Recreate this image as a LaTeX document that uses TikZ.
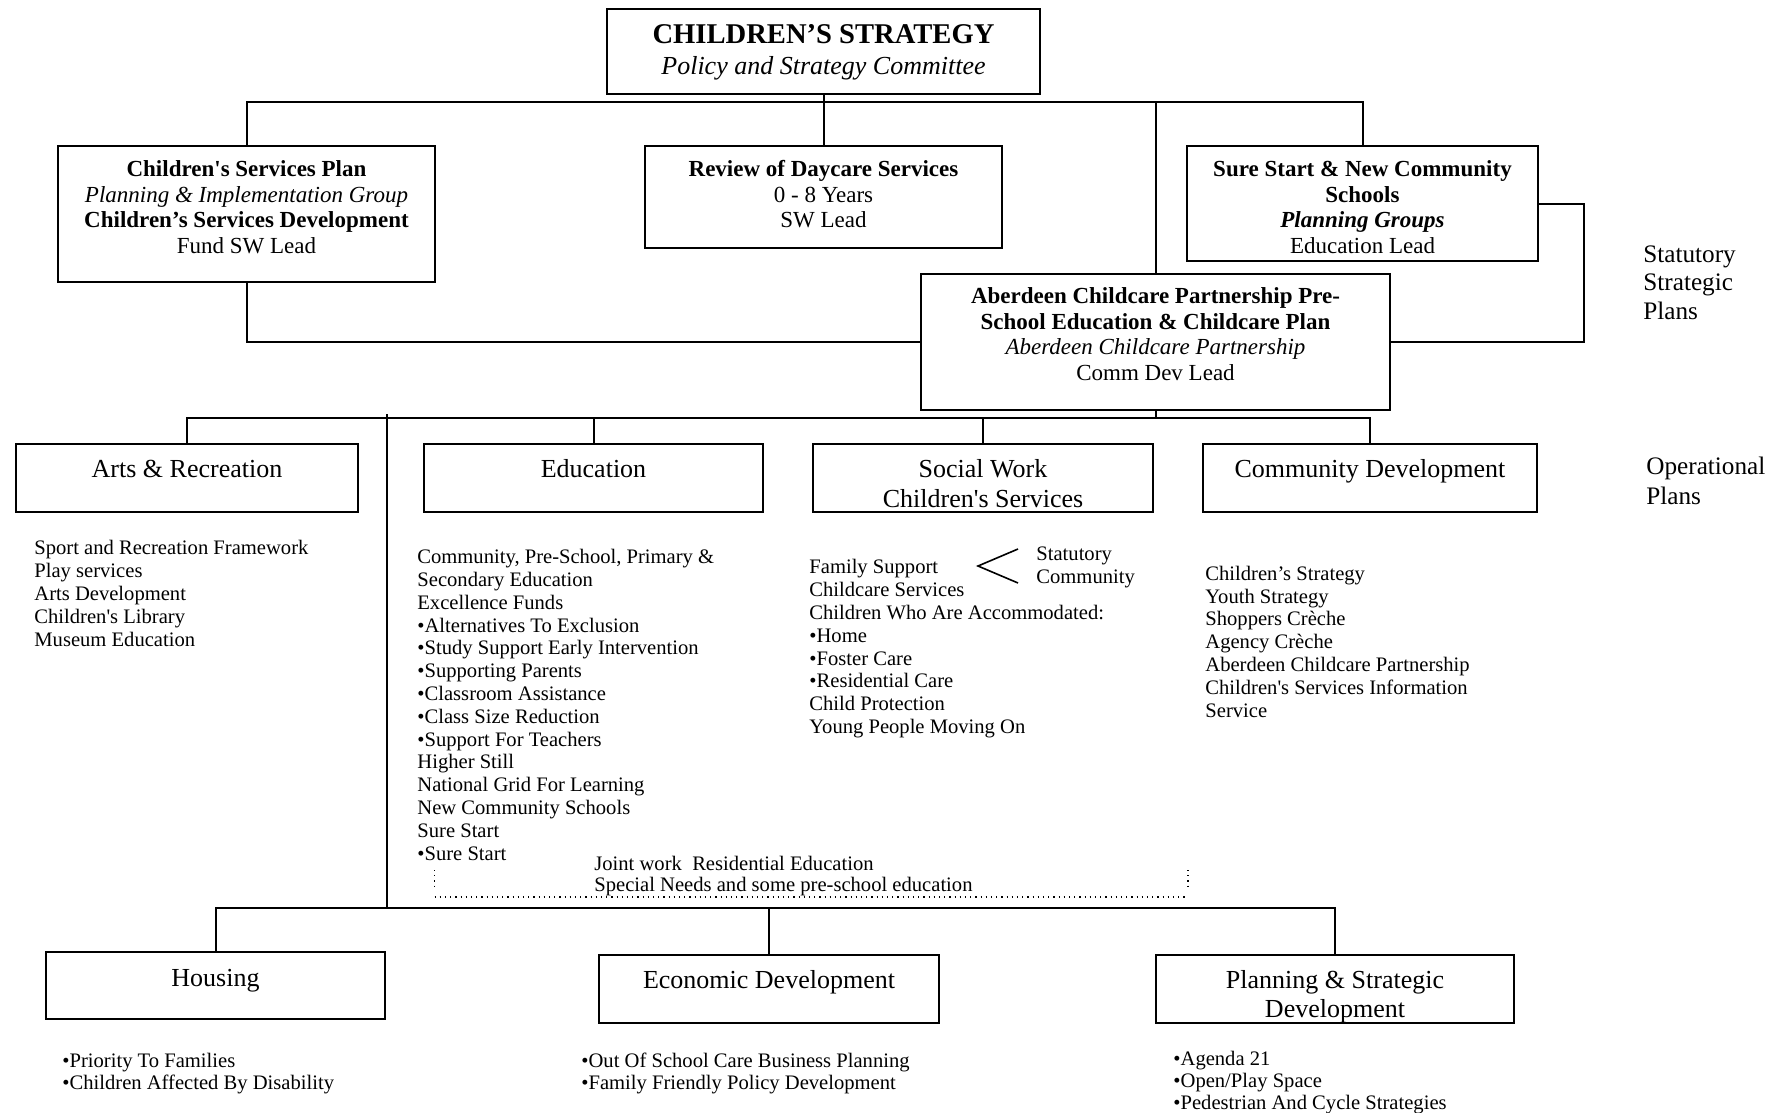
\documentclass[tikz,border=0pt]{standalone}
\usepackage{fontspec}
\setmainfont{Liberation Serif}
\begin{document}
\begin{tikzpicture}[x=0.5pt,y=-0.5pt,
  box/.style={draw,line width=1pt,inner xsep=0pt,inner ysep=0pt,align=center,anchor=north},
  plan/.style={box,font=\fontsize{11.5}{12.75}\selectfont},
  dept/.style={box,font=\fontsize{13}{15}\selectfont,text height=16.5pt,text depth=17.5pt},
  list/.style={anchor=base west,align=left,inner sep=0pt,font=\fontsize{10.3}{11.4}\selectfont},
  side/.style={anchor=base west,align=left,inner sep=0pt,font=\fontsize{12.6}{14.25}\selectfont},
  link/.style={line width=1pt}]
\useasboundingbox (0,0) rectangle (1782,1113);
% strategic plans (text height = top of box to last baseline)
\node[box,minimum width=216.5pt,text height=33pt,text depth=9.5pt,font=\fontsize{13}{15.5}\selectfont] (strategy) at (823.5,8)
  {{\fontsize{14.3}{15.5}\selectfont\bfseries CHILDREN’S STRATEGY}\\\textit{Policy and Strategy Committee}};
\node[plan,minimum width=188.5pt,text height=53.5pt,text depth=14.5pt] (csp) at (246.5,145)
  {\textbf{Children\textquotesingle s Services Plan}\\\textit{Planning \& Implementation Group}\\\textbf{Children’s Services Development}\\Fund SW Lead};
\node[plan,minimum width=178.5pt,text height=40.75pt,text depth=10.25pt] (review) at (823.5,145)
  {\textbf{Review of Daycare Services}\\0 - 8 Years\\SW Lead};
\node[plan,minimum width=175.5pt,text height=53.5pt,text depth=4pt] (ss) at (1362.5,145)
  {\textbf{Sure Start \& New Community}\\\textbf{Schools}\\\textbf{\textit{Planning Groups}}\\Education Lead};
\node[plan,minimum width=234.5pt,text height=53pt,text depth=15pt] (acp) at (1155.5,273)
  {\textbf{Aberdeen Childcare Partnership Pre-}\\\textbf{School Education \& Childcare Plan}\\\textit{Aberdeen Childcare Partnership}\\Comm Dev Lead};
% operational plans
\node[dept,minimum width=171.25pt] (arts) at (187,443) {Arts \& Recreation};
\node[dept,minimum width=169.5pt] (edu) at (593.5,443) {Education};
\node[dept,minimum width=169.75pt,text height=31.5pt,text depth=2.5pt] (sw) at (983,443) {Social Work\\Children\textquotesingle s Services};
\node[dept,minimum width=167pt] (cd) at (1370,443) {Community Development};
\node[dept,minimum width=169.5pt,text height=17pt,text depth=16.5pt] (housing) at (215.5,951) {Housing};
\node[dept,minimum width=170pt] (econ) at (769,954) {Economic Development};
\node[dept,minimum width=179.25pt,text height=31pt,text depth=3pt,font=\fontsize{13}{14.5}\selectfont] (psd) at (1335,954) {Planning \& Strategic\\Development};
% side labels (placed at last baseline)
\node[side] (statlabel) at (1643,319) {Statutory\\Strategic\\Plans};
\node[side,font=\fontsize{12.6}{15}\selectfont] (oplabel) at (1646,504) {Operational\\Plans};
% lists (placed at last baseline)
\node[list] (artslist) at (34,646) {Sport and Recreation Framework\\Play services\\Arts Development\\Children\textquotesingle s Library\\Museum Education};
\node[list] (edulist) at (417,860) {Community, Pre-School, Primary \&\\Secondary Education\\Excellence Funds\\•Alternatives To Exclusion\\•Study Support Early Intervention\\•Supporting Parents\\•Classroom Assistance\\•Class Size Reduction\\•Support For Teachers\\Higher Still\\National Grid For Learning\\New Community Schools\\Sure Start\\•Sure Start};
\node[list,font=\fontsize{10.3}{10.75}\selectfont] (joint) at (594,891.5) {Joint work\ \ Residential Education\\Special Needs and some pre-school education};
\node[list] (swlist) at (809,733.5) {Family Support\\Childcare Services\\Children Who Are Accommodated:\\•Home\\•Foster Care\\•Residential Care\\Child Protection\\Young People Moving On};
\node[list,font=\fontsize{10.3}{11.5}\selectfont] (swkind) at (1036,583) {Statutory\\Community};
\node[list] (cdlist) at (1205,717) {Children’s Strategy\\Youth Strategy\\Shoppers Crèche\\Agency Crèche\\Aberdeen Childcare Partnership\\Children\textquotesingle s Services Information\\Service};
\node[list,font=\fontsize{10.3}{11}\selectfont] (hlist) at (62,1089) {•Priority To Families\\•Children Affected By Disability};
\node[list,font=\fontsize{10.3}{11}\selectfont] (elist) at (581,1089) {•Out Of School Care Business Planning\\•Family Friendly Policy Development};
\node[list,font=\fontsize{10.3}{11}\selectfont] (plist) at (1173,1109) {•Agenda 21\\•Open/Play Space\\•Pedestrian And Cycle Strategies};
% connectors
\coordinate (toprail) at (0,102);
\coordinate (sidebar) at (1584,0);
\coordinate (midrail) at (0,418);
\coordinate (spinetop) at (387,414);
\coordinate (spinebot) at (387,908);
\draw[link] (strategy.south) -- (review.north);
\draw[link] (csp.north) -- (csp.north |- toprail) -- (ss.north |- toprail) -- (ss.north);
\draw[link] (acp.north) -- (acp.north |- toprail);
\draw[link] (csp.south) |- (acp.west);
\draw[link] (ss.east) -- (ss.east -| sidebar) |- (acp.east);
\draw[link] (acp.south) -- (acp.south |- midrail);
\draw[link] (arts.north) -- (arts.north |- midrail) -- (cd.north |- midrail) -- (cd.north);
\draw[link] (edu.north) -- (edu.north |- midrail);
\draw[link] (sw.north) -- (sw.north |- midrail);
\draw[link] (spinetop) -- (spinebot);
\draw[link] (housing.north) -- (housing.north |- spinebot) -- (psd.north |- spinebot) -- (psd.north);
\draw[link] (econ.north) -- (econ.north |- spinebot);
% joint work bracket
\coordinate (jointa) at (434.5,870);
\coordinate (jointb) at (434.5,888);
\coordinate (jointc) at (434.5,897);
\coordinate (jointd) at (1186,897);
\coordinate (jointe) at (1188,870);
\coordinate (jointf) at (1188,888);
\draw[dotted,line width=0.6pt] (jointa) -- (jointb);
\draw[dotted,line width=0.6pt] (jointc) -- (jointd);
\draw[dotted,line width=0.6pt] (jointe) -- (jointf);
% statutory / community split
\draw[line width=0.8pt] (1018,549) -- (978,566) -- (1018,583);
\end{tikzpicture}
\end{document}
